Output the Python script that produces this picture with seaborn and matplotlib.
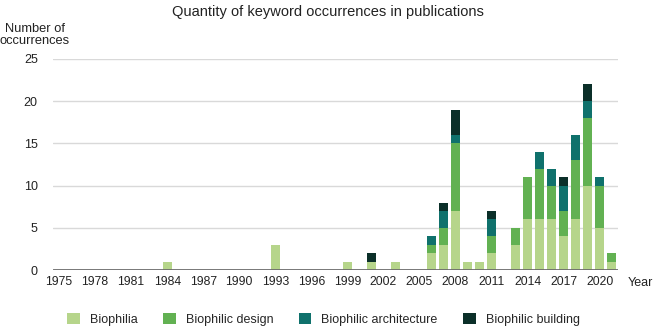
import matplotlib
matplotlib.use("Agg")
import matplotlib.pyplot as plt
from matplotlib.patches import Patch
import numpy as np
import pandas as pd
import seaborn as sns

years = list(range(1975, 2022))
series_names = ["Biophilia", "Biophilic design", "Biophilic architecture", "Biophilic building"]

biophilia_vals = {1984: 1, 1993: 3, 1999: 1, 2001: 1, 2003: 1, 2006: 2, 2007: 3, 2008: 7,
                  2009: 1, 2010: 1, 2011: 2, 2013: 3, 2014: 6, 2015: 6, 2016: 6, 2017: 4,
                  2018: 6, 2019: 10, 2020: 5, 2021: 1}
design_vals = {2006: 1, 2007: 2, 2008: 8, 2011: 2, 2013: 2, 2014: 5, 2015: 6, 2016: 4,
               2017: 3, 2018: 7, 2019: 8, 2020: 5, 2021: 1}
architecture_vals = {2006: 1, 2007: 2, 2008: 1, 2011: 2, 2015: 2, 2016: 2, 2017: 3,
                     2018: 3, 2019: 2, 2020: 1}
building_vals = {2001: 1, 2007: 1, 2008: 3, 2011: 1, 2017: 1, 2019: 2}

colors = ["#b6d58b", "#62b152", "#0f716c", "#0b2f29"]
tick_years = list(range(1975, 2021, 3))

sns.set_theme(style="white")
plt.rcParams["font.family"] = ["Liberation Sans", "DejaVu Sans"]

df = pd.DataFrame({"year": [str(y) for y in years]})
for name, vals in zip(series_names, [biophilia_vals, design_vals, architecture_vals, building_vals]):
    df[name] = [vals.get(y, 0) for y in years]
cum = df[series_names].cumsum(axis=1)

fig = plt.figure(figsize=(6.55, 3.31), dpi=100)
ax = fig.add_axes([0.081, 0.184, 0.862, 0.638])

order = [str(y) for y in years]
for name, col in reversed(list(zip(series_names, colors))):
    sns.barplot(x=df["year"], y=cum[name], order=order, color=col, width=0.72,
                saturation=1, ax=ax, edgecolor="none", linewidth=0)

ax.set_ylim(0, 25)
ax.set_xlim(-0.5, len(years) - 0.5)
ax.set_yticks([0, 5, 10, 15, 20, 25])
ax.set_yticklabels(["0", "5", "10", "15", "20", "25"], fontsize=9, color="#222222")
ax.set_xticks([years.index(y) for y in tick_years])
ax.set_xticklabels([str(y) for y in tick_years], fontsize=8.7, color="#222222")
ax.tick_params(axis="both", length=0, pad=4)
ax.tick_params(axis="y", pad=11)
ax.set_xlabel("")
ax.set_ylabel("")
for v in [5, 10, 15, 20, 25]:
    ax.axhline(v, color="#d9d9d9", linewidth=1, zorder=0)
ax.axhline(0, color="#6b6b6b", linewidth=2, zorder=5)
for s in ax.spines.values():
    s.set_visible(False)
ax.set_axisbelow(True)

fig.text(0.5, 0.965, "Quantity of keyword occurrences in publications", ha="center",
         va="center", fontsize=10.5, color="#222222")
fig.text(0.053, 0.893, "Number of\noccurrences", ha="center", va="center",
         fontsize=9.3, color="#222222", linespacing=1.0)
fig.text(0.977, 0.145, "Year", ha="center", va="center", fontsize=9, color="#222222")

handles = [Patch(facecolor=c, edgecolor="none", label=n) for n, c in zip(series_names, colors)]
fig.legend(handles=handles, loc="center", bbox_to_anchor=(0.494, 0.035), ncol=4,
           frameon=False, fontsize=9, handlelength=1.0, handleheight=1.0,
           columnspacing=2.05, handletextpad=0.8)

fig.savefig("out.png", dpi=100)
